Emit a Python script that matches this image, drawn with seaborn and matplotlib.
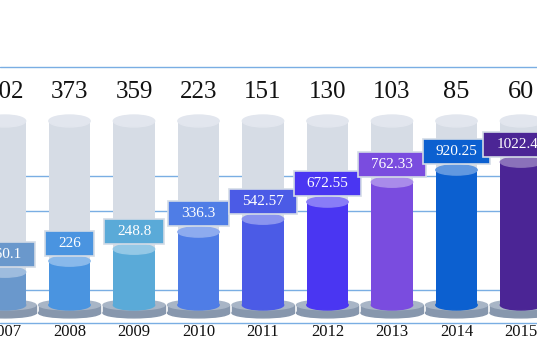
import numpy as np
import pandas as pd
import seaborn as sns
import matplotlib.pyplot as plt
from matplotlib.patches import Ellipse, Rectangle

#--Data
years = ['2007', '2008', '2009', '2010', '2011', '2012', '2013', '2014', '2015']
top_counts = ['402', '373', '359', '223', '151', '130', '103', '85', '60']
value_labels = ['160.1', '226', '248.8', '336.3', '542.57', '672.55', '762.33', '920.25', '1022.45']
fill_pct = [17.9, 23.9, 30.4, 39.7, 46.7, 56.0, 66.8, 73.4, 77.7]   #blue level inside the grey tube
full_pct = [100] * len(years)
bar_colors = ['#6a98cc', '#4a94e0', '#5aaad8', '#4f7de6', '#4b5be6',
              '#4a36f2', '#7a4cdf', '#0c60d0', '#4b2595']

df = pd.DataFrame({'year': years, 'fill': fill_pct, 'full': full_pct})

#--Figure: one axis over the whole canvas, 1 unit = 1.84 px vertically
sns.set_style('white')
fig = plt.figure(figsize=(5.37, 3.6), dpi=100)
ax = fig.add_axes([0, 0, 1, 1])
px = 1.84

#Gridlines behind everything
for gy in [129.3, 70.1, 51.1, 8.2, -9.8]:
    ax.axhline(gy, color='#7aaee3', lw=1, zorder=0)

w = 0.64
#Grey background tubes
sns.barplot(data=df, x='year', y='full', color='#d6dce5', width=w, linewidth=0,
            saturation=1, ax=ax, zorder=2)
#Coloured fill
sns.barplot(data=df, x='year', y='fill', hue='year', palette=bar_colors, width=w,
            linewidth=0, saturation=1, legend=False, ax=ax, zorder=3)

ax.set_xlim(-5 / 64.5, 8 + 16 / 64.5)
ax.set_ylim(-55 / px, 305 / px)
ax.axis('off')


def lighten(c, amt):
    rgb = np.array(plt.matplotlib.colors.to_rgb(c))
    return tuple(rgb + (1 - rgb) * amt)


dw = 0.96
for i, (v, c) in enumerate(zip(fill_pct, bar_colors)):
    #Base disc
    ax.add_patch(Ellipse((i, -4.3), dw, 5.4, color='#8797ad', zorder=1))
    ax.add_patch(Rectangle((i - dw / 2, -4.3), dw, 4.3, color='#8797ad', zorder=1))
    ax.add_patch(Ellipse((i, 0), dw, 5.4, color='#a8b5c6', zorder=1))
    #Tube top
    ax.add_patch(Ellipse((i, 100), w, 6.5, color='#e2e6ee', zorder=2))
    #Fill bottom and top
    ax.add_patch(Ellipse((i, 0), w, 5.4, color=c, zorder=3))
    ax.add_patch(Ellipse((i, v), w, 5.6, color=lighten(c, 0.35), zorder=3))

#--Labels
texts = []
for i, (v, lab) in enumerate(zip(fill_pct, value_labels)):
    t = ax.text(i, v + 18 / px, lab, ha='center', va='center', color='white',
                fontsize=11, family='Liberation Serif', zorder=6)
    texts.append(t)

for i, lab in enumerate(top_counts):
    size = 19 if len(lab) == 2 else 18
    ax.text(i, 115.8, lab, ha='center', va='center', fontsize=size,
            family='Liberation Serif', color='#111111', zorder=6)

for i, yr in enumerate(years):
    ax.text(i, -14.7, yr, ha='center', va='center', fontsize=12,
            family='Liberation Serif', color='#111111', zorder=6)

#Boxes behind the value labels, sized from the rendered text
fig.canvas.draw()
inv = ax.transData.inverted()
for t, c in zip(texts, bar_colors):
    bb = t.get_window_extent()
    cx, cy = (bb.x0 + bb.x1) / 2, (bb.y0 + bb.y1) / 2
    bw, bh = bb.width + 26, 25
    (x0, y0), (x1, y1) = inv.transform([(cx - bw / 2, cy - bh / 2), (cx + bw / 2, cy + bh / 2)])
    ax.add_patch(Rectangle((x0, y0), x1 - x0, y1 - y0, facecolor=c,
                           edgecolor='#d3dbe6', lw=1.2, zorder=5))

fig.savefig('out.png', dpi=100)
